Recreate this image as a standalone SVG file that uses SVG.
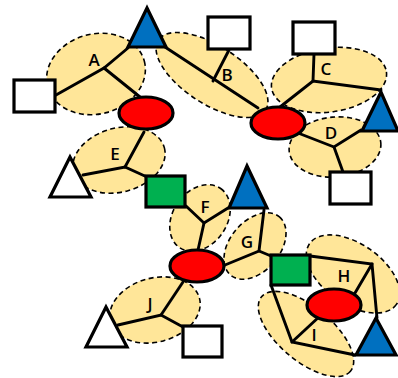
<svg xmlns="http://www.w3.org/2000/svg" width="398" height="378" viewBox="0 0 398 378">
<style>
.grp{fill:#FFE699;stroke:#000;stroke-width:1.6;stroke-dasharray:5,3.5}
.ln{stroke:#000;stroke-width:2.9;fill:none;stroke-linecap:round}
.red{fill:#FF0000;stroke:#000;stroke-width:3.2}
.blue{fill:#0070C0;stroke:#000;stroke-width:3.2;stroke-linejoin:miter}
.wt{fill:#fff;stroke:#000;stroke-width:3.2;stroke-linejoin:miter}
.sq{fill:#fff;stroke:#000;stroke-width:3.2}
.gr{fill:#00B050;stroke:#000;stroke-width:3.2}
.lbl{font-family:"Open Sans","Liberation Sans",sans-serif;font-size:17px;font-weight:600;fill:#000;text-anchor:middle}
</style>
<g id="groups">
<ellipse class="grp" cx="96" cy="74" rx="50" ry="40" transform="rotate(-15 96 74)"/>
<ellipse class="grp" cx="212" cy="75" rx="64" ry="29" transform="rotate(33 212 75)"/>
<ellipse class="grp" cx="329" cy="80" rx="58" ry="32" transform="rotate(-8 329 80)"/>
<ellipse class="grp" cx="335" cy="147" rx="46" ry="30" transform="rotate(-5 335 147)"/>
<ellipse class="grp" cx="119" cy="160" rx="47" ry="32" transform="rotate(-15 119 160)"/>
<ellipse class="grp" cx="200" cy="218" rx="36" ry="27" transform="rotate(-55 200 218)"/>
<ellipse class="grp" cx="255" cy="246" rx="38" ry="25" transform="rotate(-50 255 246)"/>
<ellipse class="grp" cx="353" cy="274" rx="53" ry="30" transform="rotate(35 353 274)"/>
<ellipse class="grp" cx="306" cy="334" rx="58" ry="27" transform="rotate(40 306 334)"/>
<ellipse class="grp" cx="155" cy="310" rx="46" ry="32" transform="rotate(-15 155 310)"/>
</g>
<g id="connectors">
<polyline class="ln" points="56,95 104,68 128,48"/><line class="ln" x1="104" y1="68" x2="140" y2="97"/>
<line class="ln" x1="165" y1="47" x2="258" y2="108"/><line class="ln" x1="213" y1="81" x2="229" y2="50"/>
<polyline class="ln" points="280,107 313,81 381,90"/><line class="ln" x1="313" y1="81" x2="314" y2="54"/>
<polyline class="ln" points="298,133 334,147 361,130"/><line class="ln" x1="334" y1="147" x2="343" y2="172"/>
<polyline class="ln" points="83,175 125,167 147,177"/><line class="ln" x1="125" y1="167" x2="144" y2="132"/>
<polyline class="ln" points="186,206 204,223 228,208"/><line class="ln" x1="204" y1="223" x2="198" y2="250"/>
<polyline class="ln" points="225,265 259,251 264,210"/><line class="ln" x1="259" y1="251" x2="271" y2="256"/>
<polyline class="ln" points="310,256 372,264 377,318"/><line class="ln" x1="372" y1="264" x2="355" y2="293"/>
<polyline class="ln" points="271,285 292,342 355,355"/><line class="ln" x1="292" y1="342" x2="320" y2="316"/>
<polyline class="ln" points="118,325 161,315 183,327"/><line class="ln" x1="161" y1="315" x2="183" y2="282"/>
</g>
<g id="labels">
<text class="lbl" x="94" y="66">A</text>
<text class="lbl" x="227" y="81">B</text>
<text class="lbl" x="326" y="75">C</text>
<text class="lbl" x="331" y="139">D</text>
<text class="lbl" x="115" y="160">E</text>
<text class="lbl" x="205" y="213">F</text>
<text class="lbl" x="247" y="248">G</text>
<text class="lbl" x="344" y="282">H</text>
<text class="lbl" x="314" y="341">I</text>
<text class="lbl" x="150" y="310">J</text>
</g>
<g id="node-tri-blue-1"><polygon class="blue" points="147,8 128,47 166,47"/></g>
<g id="node-sq-1"><rect class="sq" x="14" y="80" width="41" height="32"/></g>
<g id="node-red-1"><ellipse class="red" cx="146" cy="113" rx="27" ry="16"/></g>
<g id="node-tri-white-1"><polygon class="wt" points="70,157 50,197 91,197"/></g>
<g id="node-green-1"><rect class="gr" x="146" y="176" width="39" height="31"/></g>
<g id="node-sq-b"><rect class="sq" x="208" y="17" width="42" height="32"/></g>
<g id="node-sq-c"><rect class="sq" x="293" y="22" width="42" height="32"/></g>
<g id="node-red-2"><ellipse class="red" cx="278" cy="123" rx="27" ry="16"/></g>
<g id="node-tri-blue-2"><polygon class="blue" points="381,92 362,131 398,131"/></g>
<g id="node-sq-d"><rect class="sq" x="330" y="172" width="41" height="32"/></g>
<g id="node-tri-blue-3"><polygon class="blue" points="247,166 229,208 267,208"/></g>
<g id="node-red-3"><ellipse class="red" cx="197" cy="266" rx="27" ry="16"/></g>
<g id="node-green-2"><rect class="gr" x="271" y="255" width="39" height="30"/></g>
<g id="node-red-4"><ellipse class="red" cx="334" cy="305" rx="27" ry="16"/></g>
<g id="node-tri-blue-4"><polygon class="blue" points="376,318 356,355 396,355"/></g>
<g id="node-tri-white-2"><polygon class="wt" points="106,307 86,347 127,347"/></g>
<g id="node-sq-j"><rect class="sq" x="183" y="326" width="39" height="31"/></g>
</svg>
